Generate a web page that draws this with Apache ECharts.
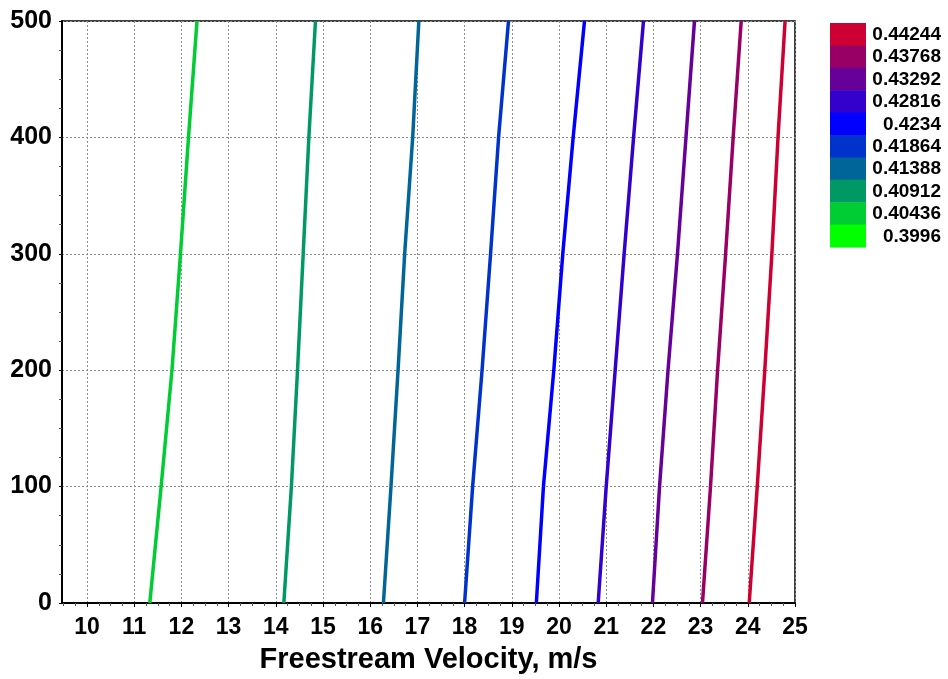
<!DOCTYPE html>
<html>
<head>
<meta charset="utf-8">
<script src="https://cdn.jsdelivr.net/npm/echarts@6/dist/echarts.min.js"></script>
<style>
  html, body { margin: 0; padding: 0; background: #fff; }
  #chart { width: 948px; height: 679px; }
</style>
</head>
<body>
<div id="chart"></div>
<script>
// Heights (y) at which each contour's velocity is sampled
const heights = [0, 100, 200, 300, 400, 500];

// Contour levels (top to bottom in the colour key) and their colours
const levels = ['0.44244', '0.43768', '0.43292', '0.42816', '0.4234', '0.41864', '0.41388', '0.40912', '0.40436', '0.3996'];
const levelColors = ['#CC0033', '#990066', '#660099', '#3300CC', '#0000FF', '#0033CC', '#006699', '#009966', '#00CC33', '#00FF00'];

// Freestream velocity along each contour line, one value per height
const v40436 = [11.33, 11.57, 11.80, 11.98, 12.15, 12.33];
const v40912 = [14.17, 14.33, 14.46, 14.58, 14.70, 14.84];
const v41388 = [16.28, 16.44, 16.59, 16.73, 16.90, 17.03];
const v41864 = [18.00, 18.17, 18.37, 18.55, 18.72, 18.93];
const v4234  = [19.52, 19.67, 19.89, 20.08, 20.30, 20.54];
const v42816 = [20.83, 21.00, 21.19, 21.38, 21.58, 21.79];
const v43292 = [21.98, 22.13, 22.31, 22.51, 22.69, 22.87];
const v43768 = [23.04, 23.21, 23.36, 23.53, 23.69, 23.86];
const v44244 = [24.03, 24.20, 24.36, 24.51, 24.64, 24.79];

const contours = [
  { level: '0.40436', v: v40436 },
  { level: '0.40912', v: v40912 },
  { level: '0.41388', v: v41388 },
  { level: '0.41864', v: v41864 },
  { level: '0.4234',  v: v4234 },
  { level: '0.42816', v: v42816 },
  { level: '0.43292', v: v43292 },
  { level: '0.43768', v: v43768 },
  { level: '0.44244', v: v44244 }
];

// Axis ticks
const xMin = 9.47, xMax = 25;
const xTickValues = [10, 11, 12, 13, 14, 15, 16, 17, 18, 19, 20, 21, 22, 23, 24, 25];
const yTickValues = [0, 100, 200, 300, 400, 500];

const FONT = 'Arial, "Liberation Sans", Helvetica, sans-serif';

// Quarter-step minor ticks on the velocity axis
const xMinorTicks = [];
for (let k = Math.ceil(xMin * 4); k <= xMax * 4; k++) {
  if (k % 4 !== 0) xMinorTicks.push(k / 4);
}

const gridBox = { left: 62, top: 21, width: 733, height: 585 };

const series = contours.map(c => ({
  type: 'line',
  name: c.level,
  data: heights.map((h, i) => [c.v[i], h]),
  showSymbol: false,
  symbol: 'none',
  clip: true,
  lineStyle: { width: 3.5, color: levelColors[levels.indexOf(c.level)] },
  itemStyle: { color: levelColors[levels.indexOf(c.level)] },
  silent: true,
  z: 3
}));

// Colour key: stacked swatches with right-aligned labels
const keyLeft = 830, keyTop = 23, keyW = 36, keyH = 22.4, keyTextRight = 941;
const keyGraphics = [];
levels.forEach((lv, i) => {
  keyGraphics.push({
    type: 'rect',
    shape: { x: keyLeft, y: keyTop + i * keyH, width: keyW, height: keyH + 0.5 },
    style: { fill: levelColors[i] },
    silent: true
  });
  keyGraphics.push({
    type: 'text',
    x: keyTextRight,
    y: keyTop + i * keyH + keyH / 2 + 0.5,
    style: {
      text: lv,
      fill: '#000',
      font: 'bold 19px ' + FONT,
      align: 'right',
      verticalAlign: 'middle'
    },
    silent: true
  });
});

const chart = echarts.init(document.getElementById('chart'), null, { renderer: 'canvas' });
chart.setOption({
  animation: false,
  backgroundColor: '#fff',
  grid: {
    left: gridBox.left, top: gridBox.top, width: gridBox.width, height: gridBox.height,
    show: true, borderColor: '#000', borderWidth: 1.5, backgroundColor: 'transparent'
  },
  xAxis: [
    {
      type: 'value',
      position: 'bottom',
      min: xMin, max: xMax,
      name: 'Freestream Velocity, m/s',
      nameLocation: 'middle',
      nameGap: 42,
      nameTextStyle: { fontFamily: FONT, fontWeight: 'bold', fontSize: 29, color: '#000' },
      axisLine: { show: true, onZero: false, lineStyle: { color: '#000', width: 2 } },
      axisTick: { show: true, length: 4, customValues: xTickValues, lineStyle: { color: '#000', width: 1 } },
      axisLabel: {
        customValues: xTickValues,
        fontFamily: FONT, fontWeight: 'bold', fontSize: 23, color: '#000', margin: 13
      },
      splitLine: { show: true, lineStyle: { color: '#8c8c8c', width: 1, type: [2, 2] } },
      minorTick: { show: false }
    },
    {
      type: 'value',
      position: 'bottom',
      min: xMin, max: xMax,
      axisLine: { show: false, onZero: false },
      axisTick: { show: true, length: 3, customValues: xMinorTicks, lineStyle: { color: '#555', width: 1 } },
      axisLabel: { show: false },
      splitLine: { show: false }
    }
  ],
  yAxis: {
    type: 'value',
    min: 0, max: 500, interval: 100,
    axisLine: { show: true, onZero: false, lineStyle: { color: '#000', width: 2 } },
    axisTick: { show: true, length: 3, lineStyle: { color: '#000', width: 1 } },
    minorTick: { show: true, splitNumber: 4, length: 3, lineStyle: { color: '#555', width: 1 } },
    axisLabel: {
      fontFamily: FONT, fontWeight: 'bold', fontSize: 25, color: '#000', margin: 10,
      formatter: v => (yTickValues.indexOf(v) >= 0 ? String(v) : '')
    },
    splitLine: { show: true, lineStyle: { color: '#8c8c8c', width: 1, type: [2, 2] } }
  },
  series: series,
  graphic: keyGraphics
});
</script>
</body>
</html>
